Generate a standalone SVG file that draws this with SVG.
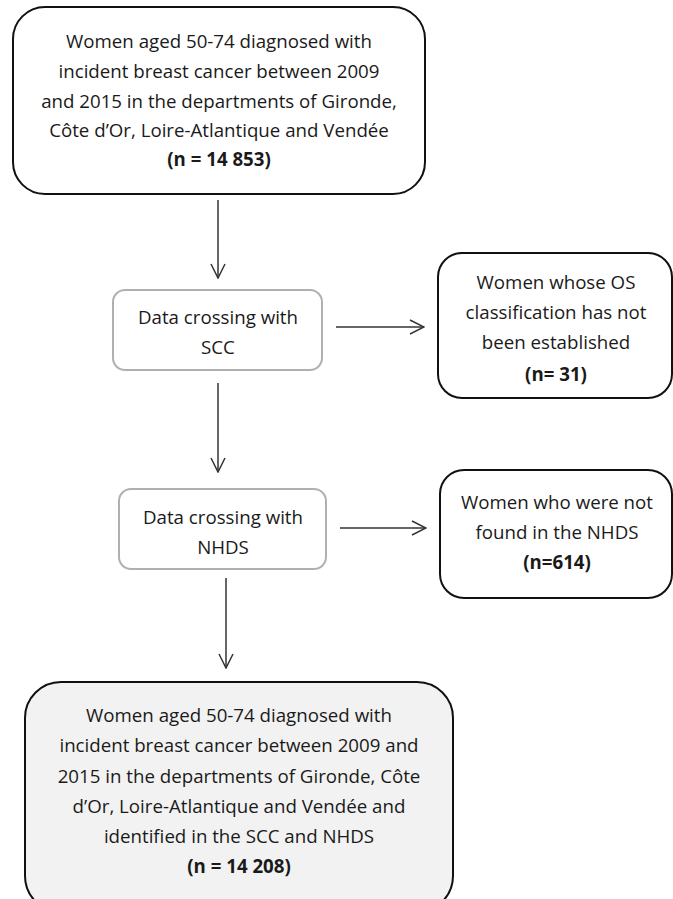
<svg xmlns="http://www.w3.org/2000/svg" width="673" height="899" viewBox="0 0 673 899">
<defs>
<style>
.t{font-family:"Open Sans","Liberation Sans",sans-serif;font-size:18.7px;fill:#1a1a1a;text-anchor:middle}
.b{font-weight:bold}
.main{fill:#fff;stroke:#111;stroke-width:2}
.grey{fill:#fff;stroke:#b0b0b0;stroke-width:2}
.final{fill:#f2f2f2;stroke:#111;stroke-width:2}
.c{stroke:#333;stroke-width:1.5;fill:none}
</style>
<marker id="ah" viewBox="0 0 16 16" refX="15" refY="8" markerWidth="16" markerHeight="16" markerUnits="userSpaceOnUse" orient="auto">
<path d="M1,1 L15,8 L1,15" fill="none" stroke="#333" stroke-width="1.5"/>
</marker>
</defs>
<rect width="673" height="899" fill="#fff"/>
<g id="connectors">
<line class="c" x1="218" y1="200" x2="218" y2="278" marker-end="url(#ah)"/>
<line class="c" x1="336" y1="327" x2="424" y2="327" marker-end="url(#ah)"/>
<line class="c" x1="218" y1="383" x2="218" y2="472" marker-end="url(#ah)"/>
<line class="c" x1="340" y1="528" x2="426" y2="528" marker-end="url(#ah)"/>
<line class="c" x1="226" y1="578" x2="226" y2="668" marker-end="url(#ah)"/>
</g>
<g id="n1">
<rect class="main" x="13" y="7" width="412" height="187" rx="32"/>
<text class="t" x="219" y="48">Women aged 50-74 diagnosed with</text>
<text class="t" x="219" y="78">incident breast cancer between 2009</text>
<text class="t" x="219" y="108">and 2015 in the departments of Gironde,</text>
<text class="t" x="219" y="137">Côte d’Or, Loire-Atlantique and Vendée</text>
<text class="t b" x="219" y="166">(n = 14 853)</text>
</g>
<g id="n2">
<rect class="grey" x="113" y="290" width="209" height="80" rx="12"/>
<text class="t" x="218" y="324">Data crossing with</text>
<text class="t" x="218" y="354">SCC</text>
</g>
<g id="n3">
<rect class="main" x="438" y="253" width="234" height="145" rx="24"/>
<text class="t" x="556" y="289">Women whose OS</text>
<text class="t" x="556" y="319">classification has not</text>
<text class="t" x="556" y="349">been established</text>
<text class="t b" x="556" y="381">(n= 31)</text>
</g>
<g id="n4">
<rect class="grey" x="119" y="489" width="207" height="80" rx="12"/>
<text class="t" x="223" y="524">Data crossing with</text>
<text class="t" x="223" y="554">NHDS</text>
</g>
<g id="n5">
<rect class="main" x="440" y="470" width="232" height="128" rx="24"/>
<text class="t" x="557" y="509">Women who were not</text>
<text class="t" x="557" y="539">found in the NHDS</text>
<text class="t b" x="557" y="569">(n=614)</text>
</g>
<g id="n6">
<rect class="final" x="25" y="682" width="428" height="230" rx="36"/>
<text class="t" x="239" y="722">Women aged 50-74 diagnosed with</text>
<text class="t" x="239" y="752">incident breast cancer between 2009 and</text>
<text class="t" x="239" y="783">2015 in the departments of Gironde, Côte</text>
<text class="t" x="239" y="813">d’Or, Loire-Atlantique and Vendée and</text>
<text class="t" x="239" y="843">identified in the SCC and NHDS</text>
<text class="t b" x="239" y="873">(n = 14 208)</text>
</g>
</svg>
